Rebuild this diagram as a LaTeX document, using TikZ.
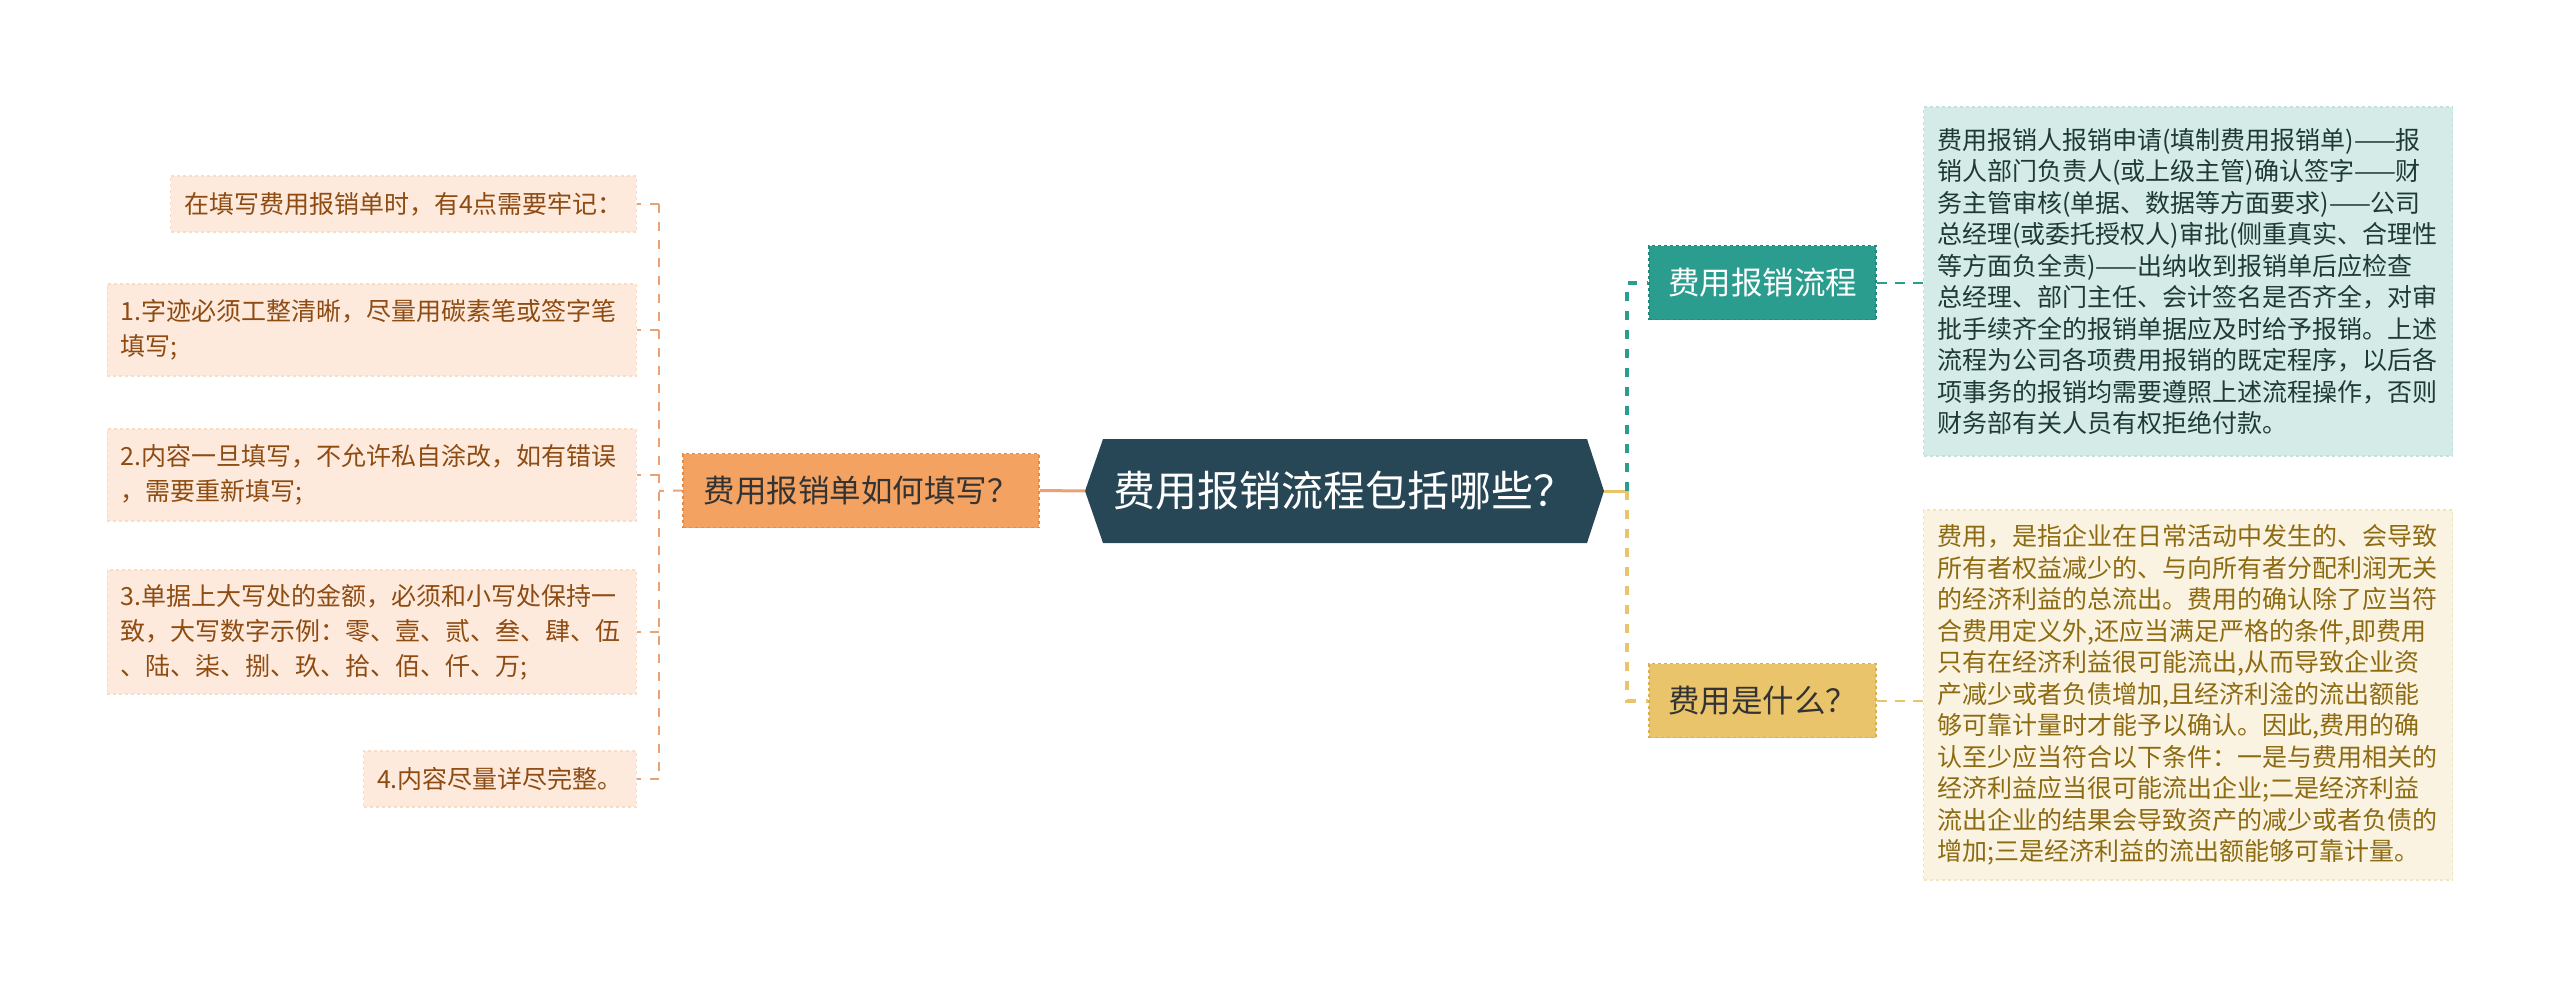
\documentclass[tikz,border=0pt]{standalone}
\usepackage{fontspec}
\setmainfont{Noto Sans CJK SC}
\definecolor{hexfill}{HTML}{274756}
\definecolor{orangeB}{HTML}{F4A261}
\definecolor{orangeBd}{HTML}{E28C48}
\definecolor{tealB}{HTML}{2A9D8F}
\definecolor{tealBd}{HTML}{1F8A7D}
\definecolor{goldB}{HTML}{E9C46A}
\definecolor{goldBd}{HTML}{D8AE4E}
\definecolor{leafLfill}{HTML}{FDEADC}
\definecolor{leafLdraw}{HTML}{F8DCC6}
\definecolor{leafLtext}{HTML}{8E4B12}
\definecolor{leafTfill}{HTML}{D5EBE8}
\definecolor{leafTdraw}{HTML}{C3E0DC}
\definecolor{leafTtext}{HTML}{1F3A36}
\definecolor{leafGfill}{HTML}{FBF3E1}
\definecolor{leafGdraw}{HTML}{F0E3C2}
\definecolor{leafGtext}{HTML}{8D6B12}
\definecolor{darktext}{HTML}{333333}
\definecolor{lconn}{HTML}{E9A274}
\begin{document}
\begin{tikzpicture}[x=1pt,y=-1pt,
  leafL/.style={fill=leafLfill, draw=leafLdraw, dashed, line width=1.2pt, text=leafLtext,
    font=\fontsize{25}{35}\selectfont, align=left, inner xsep=13.5pt, inner ysep=0pt, anchor=east},
  leafT/.style={fill=leafTfill, draw=leafTdraw, dashed, line width=1.2pt, text=leafTtext,
    font=\fontsize{25}{31.5}\selectfont, align=left, text width=502pt, inner xsep=13.5pt, inner ysep=0pt, anchor=west},
  leafG/.style={leafT, fill=leafGfill, draw=leafGdraw, text=leafGtext},
  branchbox/.style={dashed, line width=1.8pt, font=\fontsize{31.5}{36}\selectfont, inner sep=0pt,
    minimum height=74pt},
  centretext/.style={text=white, font=\fontsize{42}{48}\selectfont, inner sep=0pt},
  ldash/.style={draw=lconn, line width=2pt, dash pattern=on 9pt off 9pt},
  tdash/.style={draw=tealB, line width=4pt, dash pattern=on 9pt off 10pt},
  gdash/.style={draw=goldB, line width=4pt, dash pattern=on 9pt off 10pt},
  tthin/.style={draw=tealB, line width=2pt, dash pattern=on 10pt off 8pt},
  gthin/.style={draw=goldB, line width=2pt, dash pattern=on 10pt off 8pt},
  ]
\useasboundingbox (0,0) rectangle (2560,999);

% central hexagon
\coordinate (cW) at (1085,491);
\coordinate (cE) at (1604,491);
\fill[hexfill] (1103,439) -- (cW) -- (1103,543) -- (1587,543) -- (cE) -- (1587,439) -- cycle;
\node[centretext] (c) at (1344,491) {费用报销流程包括哪些？};

% branches
\node[branchbox, fill=orangeB, draw=orangeBd, text=darktext, minimum width=356pt] (bL) at (861,490.5) {费用报销单如何填写？};
\node[branchbox, fill=tealB, draw=tealBd, text=white, minimum width=227pt] (bT) at (1762.5,282.5) {费用报销流程};
\node[branchbox, fill=goldB, draw=goldBd, text=darktext, minimum width=227pt] (bY) at (1762.5,700.5) {费用是什么？};

% left leaves
\node[leafL, minimum height=56pt] (l0) at (637,204) {在填写费用报销单时，有4点需要牢记：};
\node[leafL, text width=502pt, minimum height=92pt] (l1) at (637,330) {1.字迹必须工整清晰，尽量用碳素笔或签字笔\\填写;};
\node[leafL, text width=502pt, minimum height=92pt] (l2) at (637,475) {2.内容一旦填写，不允许私自涂改，如有错误\\，需要重新填写;};
\node[leafL, text width=502pt, minimum height=124pt] (l3) at (637,632) {3.单据上大写处的金额，必须和小写处保持一\\致，大写数字示例：零、壹、贰、叁、肆、伍\\、陆、柒、捌、玖、拾、佰、仟、万;};
\node[leafL, minimum height=56pt] (l4) at (637,779) {4.内容尽量详尽完整。};

% right leaves
\node[leafT, minimum height=349pt] (r1) at (1923,281.5) {费用报销人报销申请(填制费用报销单)——报\\销人部门负责人(或上级主管)确认签字——财\\务主管审核(单据、数据等方面要求)——公司\\总经理(或委托授权人)审批(侧重真实、合理性\\等方面负全责)——出纳收到报销单后应检查\\总经理、部门主任、会计签名是否齐全，对审\\批手续齐全的报销单据应及时给予报销。上述\\流程为公司各项费用报销的既定程序，以后各\\项事务的报销均需要遵照上述流程操作，否则\\财务部有关人员有权拒绝付款。};
\node[leafG, minimum height=370pt] (r2) at (1923,695) {费用，是指企业在日常活动中发生的、会导致\\所有者权益减少的、与向所有者分配利润无关\\的经济利益的总流出。费用的确认除了应当符\\合费用定义外,还应当满足严格的条件,即费用\\只有在经济利益很可能流出,从而导致企业资\\产减少或者负债增加,且经济利淦的流出额能\\够可靠计量时才能予以确认。因此,费用的确\\认至少应当符合以下条件：一是与费用相关的\\经济利益应当很可能流出企业;二是经济利益\\流出企业的结果会导致资产的减少或者负债的\\增加;三是经济利益的流出额能够可靠计量。};

% connectors centre -> left branch
\draw[draw=lconn, line width=3pt] (cW) -- (bL.east);
\coordinate (lv) at (659,491);
\draw[ldash] (bL.west) -- (lv);
\draw[ldash] (lv |- l0.east) -- (lv |- l4.east);
\foreach \n in {l0,l1,l2,l3,l4}{
  \draw[ldash] (lv |- \n.east) -- (\n.east);
}

% connectors centre -> right branches
\coordinate (rv) at (1627,491);
\draw[draw=goldB, line width=3pt] (cE) -- (rv);
\draw[tdash] (rv) |- (bT.west);
\draw[gdash] (rv) |- (bY.west);
\draw[tthin] (bT.east) -- (bT.east -| r1.west);
\draw[gthin] (bY.east) -- (bY.east -| r2.west);
\end{tikzpicture}
\end{document}
